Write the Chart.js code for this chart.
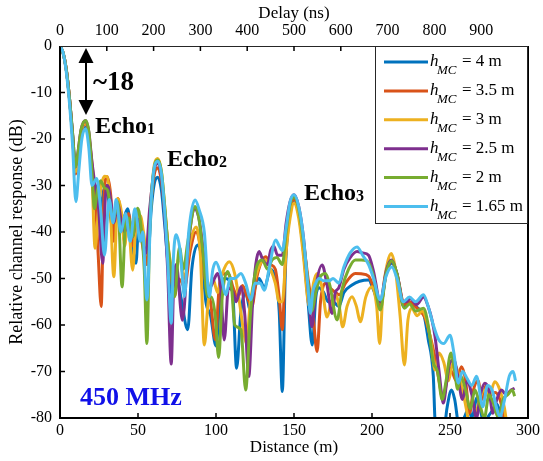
<!DOCTYPE html>
<html>
<head>
<meta charset="utf-8">
<script src="https://cdn.jsdelivr.net/npm/chart.js@4.4.1/dist/chart.umd.min.js"></script>
<style>
  body { margin: 0; background: #fff; }
  #wrap { width: 543px; height: 461px; }
</style>
</head>
<body>
<div id="wrap"><canvas id="myChart" width="543" height="461"></canvas></div>
<script>
// series values, [distance (m), relative response (dB)]
const h4 = [[0,0],[2,-1.5],[4,-5],[6,-11],[8,-19],[10,-27],[11.5,-24],[13.5,-19],[16.4,-17.5],[18.5,-20],[21,-28],[22.5,-32],[24,-30],[26,-35],[28,-31],[30,-30],[32,-36],[34.5,-40],[37,-34],[39,-39],[41,-37],[43.4,-35],[46,-42],[48.7,-46.7],[50.5,-38],[52,-39],[54,-44],[56,-47],[58.5,-35],[60.5,-29.5],[62.7,-28.2],[65,-31],[67,-38],[69,-46],[72.3,-53.9],[75,-50],[77.5,-54],[81.9,-61],[84.5,-48],[88.3,-42.8],[91,-46],[93.5,-55],[96.5,-58],[100,-64.5],[103,-52],[106,-50],[110.6,-52.5],[113.2,-69.3],[116,-57],[119,-53],[122,-57],[125,-52],[127.6,-50],[131,-52],[135,-48],[138,-50],[140.5,-57],[142.5,-74.3],[144.5,-48],[147,-37],[150,-33],[153,-36],[156,-44],[159,-55],[161.7,-64.3],[164,-54],[166,-52],[169,-53],[172,-55],[175,-55],[178.7,-56],[182,-53],[187.2,-51.4],[192,-50.6],[197.8,-50.3],[201,-52.5],[205.3,-56],[209,-49],[212.7,-46.7],[216,-49],[220.2,-56],[223,-55],[226,-55.5],[230,-56.5],[233,-57.5],[236,-63],[239.3,-71],[240.5,-81],[243,-83],[246,-83],[248,-78],[251,-74],[253,-76],[256,-82],[259,-80],[262,-78],[264,-80],[267.4,-75.6],[270,-79],[272,-82],[274,-80],[277,-78.5],[280,-77],[283,-80],[285,-83]];
const h35 = [[0,0],[2,-1.5],[4,-5],[6,-11],[8,-19],[10,-27.5],[11.5,-24],[13.5,-18.5],[16.4,-16.8],[18.5,-19.5],[21,-27],[23,-35],[24.5,-45],[26.4,-56],[28,-34],[30.2,-28.1],[32.5,-32],[34.5,-42],[37,-32.8],[39.5,-37],[41.5,-42],[44,-36],[46.5,-43],[49,-36],[51.5,-40],[53.5,-44],[55.5,-47],[58.5,-33],[60.5,-27.5],[62.7,-26.2],[65,-29],[67,-35],[69.5,-44],[71.5,-50],[73.4,-53.9],[75.5,-50],[77.5,-50.5],[79.8,-51.8],[83.5,-44],[87.2,-40],[90,-43],[93,-50],[96.5,-55],[99.6,-63.2],[102,-52],[105,-49],[108,-49],[111,-52],[114,-54],[117,-51.5],[120,-54],[123,-56],[126,-50],[129,-46.5],[131.9,-45.3],[135,-47],[138,-48],[140.5,-54],[142.5,-61],[144.5,-46],[147,-36],[150,-33],[153,-35.5],[156,-42],[159,-50],[162,-57],[164.8,-65.7],[167,-55],[170.2,-51],[173,-52],[176.6,-53],[179,-53.5],[183,-51],[189.3,-48.9],[193,-49],[197.8,-49.5],[201,-52],[205.3,-56],[209,-49],[212.7,-46.3],[216,-49],[220.8,-55.6],[224,-55],[227.6,-56],[231,-57],[234,-58.5],[237,-62],[240.4,-67],[243,-72],[245.5,-76],[248,-72],[251,-70],[254,-72],[257.4,-69],[260,-72],[262.5,-79],[265,-74],[268,-72],[270.5,-76],[273,-73],[276,-75],[279,-74.5],[282,-76],[285,-80],[288,-83]];
const h3 = [[0,0],[2,-1.5],[4,-5],[6,-11],[8,-19],[10,-27],[11.5,-24],[13.5,-18.5],[16.4,-16.5],[18.5,-19],[20.5,-28],[22.5,-43.5],[24.5,-36],[26.5,-30],[28.5,-28],[30.2,-28.1],[32,-33],[34.5,-49.6],[37,-32.8],[39.5,-36],[41.5,-43],[43.5,-37],[46.6,-48.2],[49,-37],[51.5,-36.5],[53.5,-40],[55.5,-44],[58.5,-32],[60.5,-25.5],[62.7,-24.2],[65,-27],[67,-34],[69,-42],[71,-47],[73,-50],[76.6,-45.3],[79.5,-50],[83.5,-42],[87.2,-38.9],[90,-45],[92.5,-64.3],[95,-55],[98,-50],[101,-53],[104,-49],[108.5,-46.4],[112,-49],[115,-55],[118,-62],[119.5,-64],[122,-55],[126,-49],[129,-46.5],[132,-46],[135,-48],[138,-51],[140.5,-55],[142.5,-55],[145,-44],[147.5,-37],[150,-33.8],[153,-37],[156,-45],[159,-55],[160.5,-56],[162.5,-51],[164.9,-48.9],[168,-52],[171.2,-58.3],[174,-55],[176.6,-53.5],[179,-56],[181.2,-60.4],[184,-56],[187.2,-53.9],[190,-56],[192.5,-59.3],[196,-54],[200,-51.8],[203,-56],[204.9,-64],[207,-53],[210,-46.5],[212.3,-44.6],[215,-48],[218,-58],[220.8,-68.6],[223,-59],[225.5,-56.4],[229,-58],[232,-57],[235,-59],[238,-64],[240.4,-69.7],[243,-66],[246,-68],[249,-72],[252,-68],[255,-70],[258,-74],[261,-79],[263,-83],[266,-80],[269,-76],[272,-74],[275,-75.5],[278.7,-72.2],[282,-74],[285,-78],[287,-83]];
const h25 = [[0,0],[2,-1.5],[4,-5],[6,-11],[8,-18.5],[10,-26],[11.5,-23],[13.5,-18],[16.4,-16],[18.5,-18.5],[20.5,-25],[22.5,-30],[24.5,-34],[27.4,-46.7],[29,-33],[30.5,-30],[32.5,-33],[34.5,-38],[37,-34],[39.5,-38],[41.5,-40],[44,-37],[46.5,-41],[49,-37],[51.5,-39],[53,-42],[55,-44.6],[57.5,-35],[60.5,-26.5],[62.7,-25.2],[65,-28],[67,-36],[69,-48],[71.3,-68.4],[72.8,-52],[74.5,-47],[78.5,-59],[82.5,-42],[86.6,-35],[89,-37],[91.5,-43],[93,-48],[96,-52],[99,-50],[101,-48.9],[103,-52],[105.3,-63.2],[108,-52],[111,-53],[113,-55],[116,-51.8],[118.5,-58],[121,-71.1],[123.5,-55],[125.5,-47],[127.6,-44.2],[130,-46],[133,-47],[135,-44],[137,-43],[139.5,-45],[142.5,-45],[145,-38],[147.5,-33.5],[150,-32],[153,-34.5],[156,-41],[159,-52],[161.5,-60.4],[164,-52],[168,-47.1],[171,-51],[174.4,-57.5],[176.5,-53],[178.7,-52],[182,-48],[186,-45.5],[190.4,-44.2],[194,-44.5],[197.8,-45],[201,-48.5],[205.3,-55],[209,-48.5],[212.3,-46],[216,-49],[220.2,-55],[222,-55],[224.4,-54.3],[228.7,-55.6],[233,-54],[236,-56],[238.5,-59],[240.4,-62.5],[243,-70],[245.7,-76.8],[248,-72],[250,-68],[252.5,-67.5],[255,-71],[258,-76],[261,-72],[264,-75],[267,-80],[269.5,-75],[272.3,-72.5],[275,-74],[277.5,-79],[280,-76],[283,-74],[286,-75],[289,-74],[291.4,-73.6]];
const h2 = [[0,0],[2,-1.5],[4,-5],[6,-11],[8,-18.5],[10,-26],[11.5,-23],[13.5,-18],[16.4,-16],[18.5,-18.5],[20.5,-27],[22,-35],[24,-31],[26,-29],[28.5,-30.5],[30.5,-31],[32.5,-35],[34.5,-37],[37,-33.5],[39.8,-51.8],[42,-38],[44,-37],[46.5,-41],[49.8,-34.9],[52,-39],[54,-48],[55.7,-64],[57.5,-40],[60.5,-26],[62.7,-24.5],[65,-27],[67,-34],[69,-42],[71,-48],[73.4,-53.9],[76.6,-43.3],[79,-48],[82,-42],[86.6,-34.5],[89,-37],[91.5,-44],[94.6,-53.9],[97,-54],[99.5,-58],[101.7,-67],[104,-54],[107.4,-48.5],[110,-52],[112,-60],[116,-61],[119,-74],[122,-58],[125,-49],[129.7,-46],[133,-48],[136,-46],[139,-45.5],[142.5,-47],[145,-40],[147.5,-34],[150,-32.5],[153,-35],[156,-42],[159,-51],[161.3,-57],[164,-53],[167,-49.5],[170.2,-48.9],[173,-51.5],[177.6,-58.9],[181,-52],[185,-48],[189.3,-46],[193,-46],[196.8,-46.2],[200.5,-49],[205.3,-56.8],[209,-49],[212.5,-46.2],[216,-49],[220.8,-56.4],[224,-55.5],[228,-57],[233,-56.4],[236,-60],[239.3,-68],[242,-70],[245,-76],[247.5,-72],[250.6,-66],[253,-70],[254.9,-73.8],[257,-71],[260,-74],[263,-78],[266,-74],[269,-77],[272,-80],[275,-75],[278,-77],[281,-80],[284,-76],[287,-75],[290,-74],[291.4,-75.3]];
const h165 = [[0,0],[2,-1.5],[4,-5.5],[6,-12],[8,-21],[10.2,-33.5],[12,-27],[14,-20],[16.4,-17.8],[18.5,-22],[20.5,-30],[23.5,-28.5],[26,-35],[28.5,-45],[31.5,-33],[34,-38],[36,-33],[39,-40],[42,-36],[45,-42],[48,-35],[51.5,-42],[53,-40],[55.7,-54.6],[58.5,-33],[60.5,-26],[62.7,-24.8],[65,-27.5],[67,-35],[69,-46],[71.3,-59.6],[72.8,-45],[74.5,-40.6],[77,-44],[79.8,-53.9],[82.5,-40],[86.6,-33.1],[89.3,-35.3],[92.5,-40],[95.7,-53.9],[98,-48],[100,-46.5],[103,-49],[106.4,-53.5],[109,-50],[112,-50],[116,-48.9],[119,-51],[122.3,-54.6],[125,-51],[128.4,-51],[131,-52.5],[134,-48],[138.3,-41.7],[140.5,-43],[142.5,-44],[145,-39],[147.5,-33.5],[150,-32],[153,-34.5],[156,-41],[159,-52],[160.5,-57.5],[162,-53],[164,-51],[166,-50],[169,-50.5],[172.6,-50.5],[175,-50],[178.7,-51],[182,-47.5],[186,-44.5],[190.4,-43.2],[194,-45],[197.8,-47],[201,-50],[205.3,-54.6],[209,-49.5],[212.7,-47.5],[216,-50],[220,-55],[224,-54],[228,-55],[233,-53.5],[236,-56],[239.3,-60],[242.5,-63],[246,-64],[250,-62.2],[252.5,-66],[255.3,-72.5],[258,-70],[261,-71.5],[264,-73],[267,-71],[271,-77.6],[274,-73],[277,-74],[280,-78],[282,-79.7],[285,-76],[288,-71],[290.5,-70],[292,-72]];

const heights = ['4', '3.5', '3', '2.5', '2', '1.65'];
const seriesData = [h4, h35, h3, h25, h2, h165];
const colors = ['#0072BD', '#D95319', '#EDB120', '#7E2F8E', '#77AC30', '#4DBEEE'];
const yTicks = [0, -10, -20, -30, -40, -50, -60, -70, -80];

const serif = '"Liberation Serif", "Times New Roman", serif';

// frame, inward ticks, legend with subscripts and the annotations
const extras = {
    id: 'extras',
    afterDraw(chart) {
        const c = chart.ctx;
        const a = chart.chartArea;
        const sx = chart.scales.x, sx2 = chart.scales.x2, sy = chart.scales.y;
        c.save();
        c.strokeStyle = '#000';
        c.lineWidth = 2;
        c.beginPath();
        c.moveTo(a.left, a.top); c.lineTo(a.left, a.bottom); c.lineTo(a.right, a.bottom); c.lineTo(a.right, a.top);
        c.stroke();
        c.lineWidth = 1;
        c.strokeStyle = '#262626';
        c.beginPath();
        c.moveTo(a.left, a.top + 0.5); c.lineTo(a.right, a.top + 0.5);
        c.stroke();
        c.strokeStyle = '#000';
        c.lineWidth = 1.5;
        c.beginPath();
        [50, 100, 150, 200, 250].forEach(v => {
            const px = sx.getPixelForValue(v);
            c.moveTo(px, a.bottom); c.lineTo(px, a.bottom - 5);
        });
        for (let v = 100; v <= 900; v += 100) {
            const px = sx2.getPixelForValue(v);
            c.moveTo(px, a.top); c.lineTo(px, a.top + 5);
        }
        yTicks.slice(1, -1).forEach(v => {
            const py = sy.getPixelForValue(v);
            c.moveTo(a.left, py); c.lineTo(a.left + 5, py);
        });
        c.stroke();

        // legend
        const lx = 375, ly = a.top, lw = a.right - 375, lh = 178;
        c.fillStyle = '#fff';
        c.fillRect(lx, ly, lw, lh);
        c.strokeStyle = '#262626';
        c.lineWidth = 1;
        c.strokeRect(lx + 0.5, ly + 0.5, lw - 1, lh - 1);
        heights.forEach((h, i) => {
            const yy = 62 + i * 28.9;
            c.strokeStyle = colors[i];
            c.lineWidth = 3;
            c.beginPath();
            c.moveTo(384, yy); c.lineTo(428, yy);
            c.stroke();
            c.fillStyle = '#000';
            c.textBaseline = 'alphabetic';
            c.textAlign = 'left';
            c.font = 'italic 17px ' + serif;
            c.fillText('h', 430, yy + 4);
            c.font = 'italic 13px ' + serif;
            c.fillText('MC', 437, yy + 12);
            c.font = '17px ' + serif;
            c.fillText('= ' + h + ' m', 462, yy + 4);
        });

        // arrow for the ~18 dB gap
        c.strokeStyle = '#000';
        c.fillStyle = '#000';
        c.lineWidth = 2;
        c.beginPath();
        c.moveTo(86, 60); c.lineTo(86, 104);
        c.stroke();
        c.beginPath();
        c.moveTo(86, 48); c.lineTo(78.5, 63); c.lineTo(93.5, 63); c.closePath();
        c.fill();
        c.beginPath();
        c.moveTo(86, 115); c.lineTo(78.5, 100); c.lineTo(93.5, 100); c.closePath();
        c.fill();

        c.font = 'bold 27px ' + serif;
        c.fillText('~18', 93, 90);

        const echo = (x, y, n) => {
            c.font = 'bold 24px ' + serif;
            c.fillText('Echo', x, y);
            const w = c.measureText('Echo').width;
            c.font = 'bold 16px ' + serif;
            c.fillText(n, x + w, y + 1);
        };
        echo(95, 133, '1');
        echo(167, 166, '2');
        echo(304, 200, '3');

        c.fillStyle = '#1010E8';
        c.font = 'bold 26px ' + serif;
        c.fillText('450 MHz', 80, 405);
        c.restore();
    }
};

const ctx = document.getElementById('myChart').getContext('2d');
const chart = new Chart(ctx, {
    type: 'line',
    data: {
        datasets: seriesData.map((s, i) => ({
            label: 'h_MC = ' + heights[i] + ' m',
            data: s.map(p => ({ x: p[0], y: p[1] })),
            borderColor: colors[i],
            backgroundColor: colors[i],
            borderWidth: 3,
            pointRadius: 0,
            cubicInterpolationMode: 'monotone',
            order: seriesData.length - 1 - i
        }))
    },
    options: {
        responsive: false,
        animation: false,
        layout: { padding: 0 },
        plugins: {
            legend: { display: false },
            tooltip: { enabled: false }
        },
        scales: {
            x: {
                type: 'linear', position: 'bottom', min: 0, max: 300,
                grid: { display: false, drawTicks: false },
                border: { display: false },
                ticks: { stepSize: 50, color: '#000', padding: 3, maxRotation: 0, font: { family: serif, size: 16 } },
                title: { display: true, text: 'Distance (m)', color: '#000', padding: { top: 0, bottom: 3 }, font: { family: serif, size: 17 } },
                afterFit: s => { s.height = 43; }
            },
            x2: {
                type: 'linear', position: 'top', min: 0, max: 1000,
                grid: { display: false, drawTicks: false },
                border: { display: false },
                ticks: {
                    stepSize: 100, color: '#000', padding: 6, maxRotation: 0,
                    font: { family: serif, size: 16 },
                    callback: v => (v < 1000 ? v : '')
                },
                title: { display: true, text: 'Delay (ns)', color: '#000', padding: { top: 3, bottom: 0 }, font: { family: serif, size: 17 } },
                afterFit: s => { s.height = 46; }
            },
            y: {
                type: 'linear', position: 'left', min: -80, max: 0,
                grid: { display: false, drawTicks: false },
                border: { display: false },
                afterBuildTicks: s => { s.ticks = yTicks.map(v => ({ value: v })); },
                ticks: { color: '#000', padding: 8, font: { family: serif, size: 16 } },
                title: { display: true, text: 'Relative channel response (dB)', color: '#000', padding: { top: 6, bottom: 0 }, font: { family: serif, size: 18 } },
                afterFit: s => { s.width = 60; }
            },
            y2: {
                type: 'linear', position: 'right', min: -80, max: 0,
                grid: { display: false, drawTicks: false },
                border: { display: false },
                ticks: { display: false },
                afterFit: s => { s.width = 12; }
            }
        }
    },
    plugins: [extras]
});
</script>
</body>
</html>
